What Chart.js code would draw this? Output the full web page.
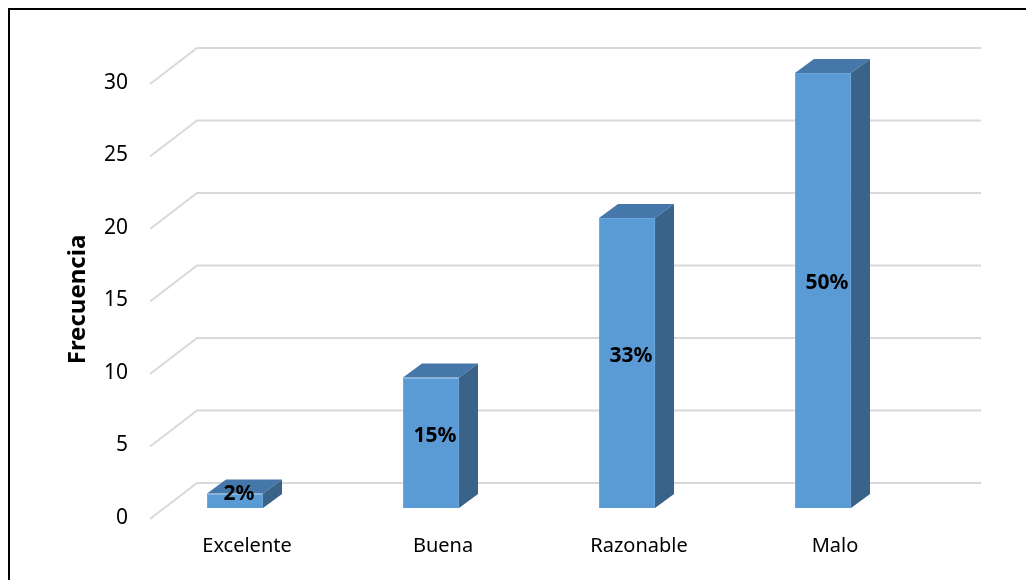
<!DOCTYPE html>
<html>
<head>
<meta charset="utf-8">
<script src="https://cdn.jsdelivr.net/npm/chart.js@4.4.1/dist/chart.umd.min.js"></script>
<style>
    html, body { margin: 0; padding: 0; background: #fff; }
    #wrap { width: 1026px; height: 580px; position: relative; }
</style>
</head>
<body>
<div id="wrap"><canvas id="chart"></canvas></div>
<script>
// Survey answers and how many times each one was given.
const categories = ['Excelente', 'Buena', 'Razonable', 'Malo'];
const frequencies = [1, 9, 20, 30];
const yMax = 30;
const yStep = 5;
const yTitle = 'Frecuencia';

const total = frequencies.reduce((a, b) => a + b, 0);
const percentLabels = frequencies.map(v => `${Math.round(v / total * 100)}%`);

// 3D look: bar depth, and where the back wall / side wall sit relative to the bar plane.
const BAR_DX = 19;
const BAR_DY = -14;
const WALL_DX = 60;
const WALL_DY = -25;
const FRONT_DX = 13;
const FRONT_DY = 11;

const FRONT_COLOR = '#5B9BD5';
const TOP_COLOR = '#4677AA';
const SIDE_COLOR = '#3A6389';
const GRID_COLOR = '#D9D9D9';

Chart.defaults.font.family = "'Noto Sans', sans-serif";
Chart.defaults.color = '#000';

const frame3d = {
    id: 'frame3d',
    beforeDraw(chart) {
        const { ctx, width, height } = chart;
        ctx.save();
        ctx.fillStyle = '#fff';
        ctx.fillRect(0, 0, width, height);
        // outer frame (only top and left edges fall inside the canvas)
        ctx.strokeStyle = '#000';
        ctx.lineWidth = 2;
        ctx.beginPath();
        ctx.moveTo(9, height + 5);
        ctx.lineTo(9, 9);
        ctx.lineTo(width + 5, 9);
        ctx.stroke();
        ctx.restore();
    },
    beforeDatasetsDraw(chart) {
        const { ctx, chartArea } = chart;
        const y = chart.scales.y;
        ctx.save();
        ctx.strokeStyle = GRID_COLOR;
        ctx.lineWidth = 2;
        y.ticks.forEach((t) => {
            const p = y.getPixelForValue(t.value);
            ctx.beginPath();
            ctx.moveTo(chartArea.left + FRONT_DX, p + FRONT_DY);
            ctx.lineTo(chartArea.left + WALL_DX, p + WALL_DY);
            ctx.lineTo(chartArea.right + WALL_DX, p + WALL_DY);
            ctx.stroke();
        });
        ctx.restore();
    },
    afterDatasetsDraw(chart) {
        const { ctx } = chart;
        const meta = chart.getDatasetMeta(0);
        ctx.save();
        meta.data.forEach((bar, i) => {
            const { x, y, base, width } = bar.getProps(['x', 'y', 'base', 'width'], true);
            const x0 = x - width / 2;
            const x1 = x + width / 2;

            // top face
            ctx.fillStyle = TOP_COLOR;
            ctx.beginPath();
            ctx.moveTo(x0, y);
            ctx.lineTo(x1, y);
            ctx.lineTo(x1 + BAR_DX, y + BAR_DY);
            ctx.lineTo(x0 + BAR_DX, y + BAR_DY);
            ctx.closePath();
            ctx.fill();

            // right side face
            ctx.fillStyle = SIDE_COLOR;
            ctx.beginPath();
            ctx.moveTo(x1, y);
            ctx.lineTo(x1 + BAR_DX, y + BAR_DY);
            ctx.lineTo(x1 + BAR_DX, base + BAR_DY);
            ctx.lineTo(x1, base);
            ctx.closePath();
            ctx.fill();

            // percentage label in the middle of the box
            ctx.fillStyle = '#000';
            ctx.font = "bold 21px 'Noto Sans', sans-serif";
            ctx.textAlign = 'center';
            ctx.textBaseline = 'middle';
            ctx.fillText(percentLabels[i], x + 4, (y + base) / 2 - 7);
        });
        ctx.restore();
    },
    afterDraw(chart) {
        // rotated axis title, centred on the wall height
        const { ctx } = chart;
        const y = chart.scales.y;
        ctx.save();
        ctx.translate(78, (y.top + y.bottom) / 2 + 9);
        ctx.rotate(-Math.PI / 2);
        ctx.fillStyle = '#000';
        ctx.font = "bold 24px 'Noto Sans', sans-serif";
        ctx.textAlign = 'center';
        ctx.textBaseline = 'middle';
        ctx.fillText(yTitle, 0, 0);
        ctx.restore();
    },
};

new Chart(document.getElementById('chart'), {
    type: 'bar',
    data: {
        labels: categories,
        datasets: [{
            data: frequencies,
            backgroundColor: FRONT_COLOR,
            borderColor: '#6AA6DC',
            borderWidth: 1,
            categoryPercentage: 1,
            barPercentage: 0.286,
        }],
    },
    options: {
        responsive: true,
        maintainAspectRatio: false,
        animation: false,
        events: [],
        layout: {
            padding: { left: 10, top: 73, right: 105, bottom: 0 },
        },
        plugins: {
            legend: { display: false },
            tooltip: { enabled: false },
        },
        scales: {
            x: {
                grid: { display: false, drawTicks: false },
                border: { display: false },
                ticks: {
                    font: { size: 20 },
                    padding: 26,
                    labelOffset: 12,
                },
                afterFit(scale) { scale.height = 72; },
            },
            y: {
                min: 0,
                max: yMax,
                grid: { display: false, drawTicks: false },
                border: { display: false },
                ticks: {
                    stepSize: yStep,
                    font: { size: 21 },
                    padding: 9,
                    labelOffset: 10,
                },
                afterFit(scale) { scale.width = 127; },
            },
        },
    },
    plugins: [frame3d],
});
</script>
</body>
</html>
